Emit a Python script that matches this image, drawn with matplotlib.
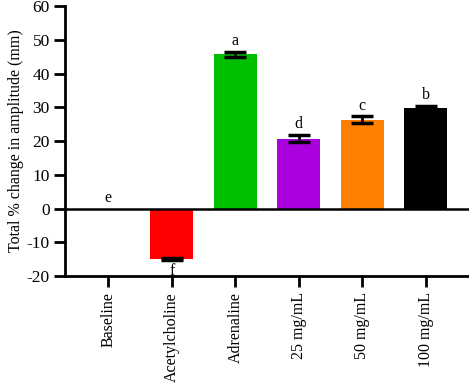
import matplotlib
matplotlib.use("Agg")
import matplotlib.pyplot as plt

categories = ["Baseline", "Acetylcholine", "Adrenaline", "25 mg/mL", "50 mg/mL", "100 mg/mL"]
values = [0.0, -14.9, 45.7, 20.7, 26.4, 29.9]
errors = [0.0, 0.3, 0.7, 1.1, 0.9, 0.6]
letters = ["e", "f", "a", "d", "c", "b"]
colors = ["#ffffff", "#ff0000", "#00bf00", "#aa00dd", "#ff8000", "#000000"]
yticks = [-20, -10, 0, 10, 20, 30, 40, 50, 60]

plt.rcParams['font.family'] = ['Liberation Serif', 'DejaVu Serif']
plt.rcParams['axes.unicode_minus'] = False

fig = plt.figure(figsize=(4.69, 3.84), dpi=100)
ax = fig.add_axes([0.139, 0.281, 0.861, 0.703])

x = list(range(len(categories)))
ax.bar(x, values, width=0.68, color=colors, edgecolor="none", zorder=2)
for xi, v, e in zip(x, values, errors):
    if e > 0:
        ax.errorbar(xi, v, yerr=e, fmt="none", ecolor="black", elinewidth=2,
                    capsize=7.8, capthick=2.5, zorder=3)
ax.axhline(0, color="black", lw=1.8, zorder=4)

for xi, v, e, lab in zip(x, values, errors, letters):
    if v >= 0:
        ax.text(xi, v + e + 0.8, lab, ha="center", va="bottom", fontsize=11.5)
    else:
        ax.text(xi, v - e - 0.9, lab, ha="center", va="top", fontsize=11.5)

ax.set_xlim(-0.68, 5.68)
ax.set_ylim(-20, 60)
ax.set_yticks(yticks)
ax.set_xticks(x)
ax.set_xticklabels(categories, rotation=90, fontsize=11.5)
ax.tick_params(axis="y", labelsize=12.5, width=2, length=8, direction="out", pad=3)
ax.tick_params(axis="x", width=2, length=8, direction="out")
ax.set_ylabel("Total % change in amplitude (mm)", fontsize=11.5, labelpad=2)
for s in ["top", "right"]:
    ax.spines[s].set_visible(False)
for s in ["left", "bottom"]:
    ax.spines[s].set_linewidth(2)

fig.savefig("out.png", dpi=100)
